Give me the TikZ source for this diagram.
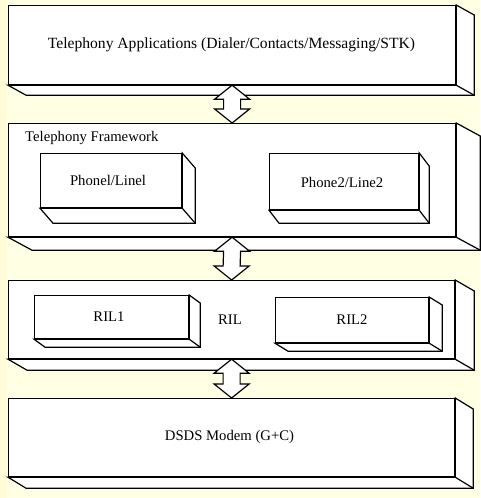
\documentclass[tikz,border=0pt]{standalone}
\usepackage{fontspec}
\setmainfont{Liberation Serif}
\usetikzlibrary{calc}
\definecolor{bgyel}{RGB}{255,255,228}
\definecolor{bgstrip}{RGB}{255,251,214}
\tikzset{
  face/.style={draw=black, fill=white, line width=1.2pt, line join=miter},
  front/.style={draw=black, fill=white, line width=1.2pt, rectangle, inner sep=0pt, anchor=north west},
  lbl/.style={font=\fontsize{14.7}{17}\selectfont, inner sep=0pt},
  dblarr/.style={draw=black, fill=white, line width=1.2pt, line join=miter}
}
\newcommand{\boxthreed}[7]{%
  % #1 name, (#2,#3) top-left, width #4, height #5, depth (#6,#7)
  \node[front, minimum width=#4, minimum height=#5] (#1) at (#2,#3) {};
  \draw[face] (#1.north east) -- ++(#6,#7) -- ($(#1.south east)+(#6,#7)$)
     -- ($(#1.south west)+(#6,#7)$) -- (#1.south west) -- (#1.south east) -- cycle;
  \draw[face] (#1.south east) -- ++(#6,#7);
}
\newcommand{\arrowbetween}[2]{%
  \draw[dblarr] (#1.south) -- ++(17.5,14) -- ++(-9,0) -- ($(#2.north)+(8.5,-14)$)
    -- ++(9,0) -- (#2.north) -- ++(-17.5,-14) -- ++(9,0)
    -- ($(#1.south)+(-8.5,14)$) -- ++(-9,0) -- cycle;
}
\begin{document}
\begin{tikzpicture}[x=1pt, y=-1pt]
\fill[bgyel] (0,0) rectangle (480,498);
\fill[bgstrip] (0,0) rectangle (7,498);
\useasboundingbox (0,0) rectangle (480,498);

% Box 1
\boxthreed{apps}{8}{5}{447}{79}{18}{10}
\node[lbl] (appst) at (231.5,45) {\fontsize{15.6}{18}\selectfont Telephony Applications (Dialer/Contacts/Messaging/STK)};

% Box 2
\boxthreed{fw}{8}{123}{447}{113}{24}{13}
\node[lbl, anchor=west] (fwt) at (25,138) {Telephony Framework};
\boxthreed{ph1}{40}{153}{141}{54}{13}{15}
\node[lbl] (ph1t) at (108,180) {Phonel/Linel};
\boxthreed{ph2}{269}{153}{149}{56}{10}{13}
\node[lbl] (ph2t) at (342,182) {Phone2/Line2};

% Box 3
\boxthreed{ril}{8}{280}{446}{78}{19}{11}
\boxthreed{ril1}{34}{295}{154}{43}{11}{8}
\node[lbl] (ril1t) at (109,317) {RIL1};
\node[lbl] (rilt) at (230,320) {RIL};
\boxthreed{ril2}{275}{297}{153}{45}{13}{8}
\node[lbl] (ril2t) at (352,320) {RIL2};

% Box 4
\boxthreed{modem}{8}{398}{446}{78}{18}{11}
\node[lbl] (modemt) at (229.5,437) {DSDS Modem (G+C)};

% Arrows
\arrowbetween{apps}{fw}
\arrowbetween{fw}{ril}
\arrowbetween{ril}{modem}
\end{tikzpicture}
\end{document}
